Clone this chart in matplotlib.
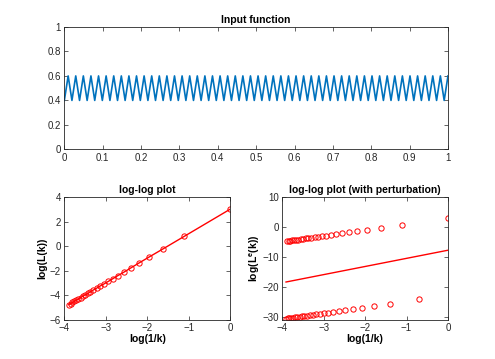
import matplotlib
matplotlib.use("Agg")
import matplotlib.pyplot as plt
import numpy as np

# input function: zigzag sampled on 102 points between 0 and 1
x_input = np.linspace(0, 1, 102)
y_input = np.tile([0.4, 0.6], 51)

# log-log data, odd k (k = 1, 3, ..., 49)
x_odd = [0.00, -1.10, -1.61, -1.95, -2.20, -2.40, -2.56, -2.71, -2.83, -2.94,
         -3.04, -3.14, -3.22, -3.30, -3.37, -3.43, -3.50, -3.56, -3.61, -3.66,
         -3.71, -3.76, -3.81, -3.85, -3.89]
y_odd = [3.00, 0.80, -0.22, -0.89, -1.39, -1.80, -2.13, -2.42, -2.67, -2.89,
         -3.09, -3.27, -3.44, -3.59, -3.73, -3.87, -3.99, -4.11, -4.22, -4.33,
         -4.43, -4.52, -4.61, -4.70, -4.78]

# perturbed values at even k (k = 2, 4, ..., 50)
x_even = [-0.69, -1.39, -1.79, -2.08, -2.30, -2.48, -2.64, -2.77, -2.89, -3.00,
          -3.09, -3.18, -3.26, -3.33, -3.40, -3.47, -3.53, -3.58, -3.64, -3.69,
          -3.74, -3.78, -3.83, -3.87, -3.91]
y_even = [-24.3, -25.7, -26.5, -27.1, -27.5, -27.9, -28.2, -28.4, -28.7, -28.9,
          -29.1, -29.2, -29.4, -29.6, -29.7, -29.8, -29.9, -30.1, -30.2, -30.3,
          -30.4, -30.4, -30.5, -30.6, -30.7]

BLUE = "#0072BD"
DARK = "#262626"

plt.rcParams["font.family"] = ["Liberation Sans", "DejaVu Sans"]
plt.rcParams["font.size"] = 7
plt.rcParams["mathtext.fontset"] = "custom"
plt.rcParams["mathtext.rm"] = "Liberation Sans"
plt.rcParams["mathtext.it"] = "Liberation Sans:bold"
plt.rcParams["mathtext.bf"] = "Liberation Sans:bold"


def style(ax):
    for s in ax.spines.values():
        s.set_color(DARK)
        s.set_linewidth(0.6)
    ax.tick_params(direction="in", length=3, width=0.5, colors=DARK,
                   labelsize=7, top=True, right=True, pad=2.5)


fig = plt.figure(figsize=(4.95, 3.59), dpi=100)

# top: input function
ax1 = fig.add_axes([0.13, 0.5838, 0.775, 0.3412])
ax1.plot(x_input, y_input, color=BLUE, lw=1.2)
ax1.set_xlim(0, 1)
ax1.set_ylim(0, 1)
ax1.set_xticks(np.arange(0, 1.01, 0.1))
ax1.set_xticklabels(["0", "0.1", "0.2", "0.3", "0.4", "0.5", "0.6", "0.7", "0.8", "0.9", "1"])
ax1.set_yticks(np.arange(0, 1.01, 0.2))
ax1.set_yticklabels(["0", "0.2", "0.4", "0.6", "0.8", "1"])
ax1.set_title("Input function", fontsize=7.5, fontweight="bold", pad=3)
style(ax1)

# bottom left: log-log plot
ax2 = fig.add_axes([0.13, 0.11, 0.3347, 0.3412])
ax2.plot(x_odd, y_odd, "r-", lw=1)
ax2.plot(x_odd, y_odd, "o", mfc="none", mec="r", ms=3.8, mew=0.7)
ax2.set_xlim(-4, 0)
ax2.set_ylim(-6, 4)
ax2.set_xticks([-4, -3, -2, -1, 0])
ax2.set_yticks([-6, -4, -2, 0, 2, 4])
ax2.set_title("log-log plot", fontsize=7.5, fontweight="bold", pad=3)
ax2.set_xlabel("log(1/k)", fontsize=7.5, fontweight="bold", labelpad=1)
ax2.set_ylabel("log(L(k))", fontsize=7.5, fontweight="bold", labelpad=2)
style(ax2)

# bottom right: with perturbation, plus a least-squares line through all points
x_all = np.array(x_odd + x_even)
y_all = np.array(y_odd + y_even)
slope, icpt = np.polyfit(x_all, y_all, 1)
x_fit = np.array([x_all.min(), 0])

ax3 = fig.add_axes([0.5703, 0.11, 0.3347, 0.3412])
ax3.plot(x_odd, y_odd, "o", mfc="none", mec="r", ms=3.8, mew=0.7)
ax3.plot(x_even, y_even, "o", mfc="none", mec="r", ms=3.8, mew=0.7)
ax3.plot(x_fit, slope * x_fit + icpt, "r-", lw=1)
ax3.set_xlim(-4, 0)
ax3.set_ylim(-31, 10)
ax3.set_xticks([-4, -3, -2, -1, 0])
ax3.set_yticks([-30, -20, -10, 0, 10])
ax3.set_title("log-log plot (with perturbation)", fontsize=7.5, fontweight="bold", pad=3)
ax3.set_xlabel("log(1/k)", fontsize=7.5, fontweight="bold", labelpad=1)
ax3.set_ylabel(r"log(L$^{e}$(k))", fontsize=7.5, fontweight="bold", labelpad=0)
style(ax3)

fig.savefig("out.png", dpi=100)
